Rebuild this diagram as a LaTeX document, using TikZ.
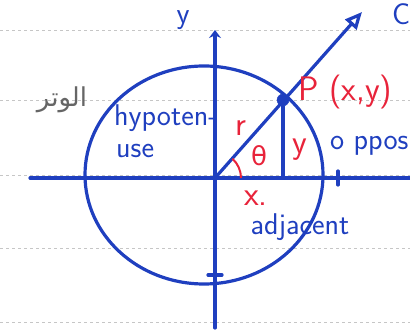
\documentclass[tikz,border=0pt]{standalone}
\usepackage{fontspec}
\usepackage{xcolor}
\usetikzlibrary{arrows.meta,positioning,calc}
\newfontfamily\arabicfont[Script=Arabic]{DejaVu Sans}
\newfontfamily\greekfont{DejaVu Sans}
\TeXXeTstate=1
\definecolor{penblue}{HTML}{1F3FBF}
\definecolor{penred}{HTML}{E8233A}
\tikzset{
  pen/.style={penblue, line width=3.2pt, line cap=round},
  ruleline/.style={gray!45, dashed, line width=0.5pt},
  bluetext/.style={penblue, font=\sffamily\fontsize{30}{32}\selectfont, inner sep=0pt},
  redtext/.style={penred, font=\sffamily\fontsize{34}{36}\selectfont, inner sep=0pt},
  dot/.style={circle, fill=penblue, draw=penblue, minimum size=12pt, inner sep=0pt}
}
\begin{document}
\begin{tikzpicture}[x=1pt, y=-1pt]
\useasboundingbox (0,0) rectangle (410,331);
% notebook rules
\foreach \yy in {30,100,175,248,322}
  \draw[ruleline] (0,\yy) -- (410,\yy);
% axes
\coordinate (O) at (215,178);
\coordinate (xl) at (30,178);
\coordinate (xr) at (412,178);
\coordinate (yb) at (215,328);
\coordinate (yt) at (215,30);
\draw[pen] (xl) -- (xr);
\draw[pen, -{Stealth[length=8pt,width=12pt]}] (yb) -- (yt);
\draw[pen] (338,171) -- (338,185);
\draw[pen] (208,275) -- (222,275);
% circle
\draw[pen] (204,175) ellipse (119 and 109);
% point and ray
\node[dot] (P) at (283,100) {};
\coordinate (tip) at (362,12);
\draw[pen, -{Triangle[open,length=17pt,width=15pt]}] (O) -- (tip);
\coordinate (Px) at (P |- O);
\draw[pen] (P) -- (Px);
\draw[penred, line width=2pt] ($(O)+(26,0)$) arc[start angle=0, end angle=-48, radius=26];
% labels
\node[bluetext] (ylab) at (183,20) {y};
\node[redtext, anchor=west] (Plab) at (298,92) {P (x,y)};
\node[redtext] (rlab) at (241,128) {r};
\node[redtext, font=\greekfont\fontsize{26}{28}\selectfont] (thlab) at (259,156) {θ};
\node[redtext] (ylen) at (300,150) {y};
\node[redtext] (xlen) at (256,198) {x.};
\node[bluetext, anchor=west] (opp) at (330,146) {o ppos};
\node[bluetext] (adj) at (300,227) {adjacent};
\node[bluetext, anchor=west] (hyp1) at (114,118) {hypoten-};
\node[bluetext, anchor=west] (hyp2) at (116,151) {use};
\node[gray!80!black, font=\arabicfont\fontsize{26}{28}\selectfont] (ar) at (62,100) {\beginR الوتر\endR};
\node[bluetext, anchor=west] (cmark) at (392,14) {C};
\end{tikzpicture}
\end{document}
